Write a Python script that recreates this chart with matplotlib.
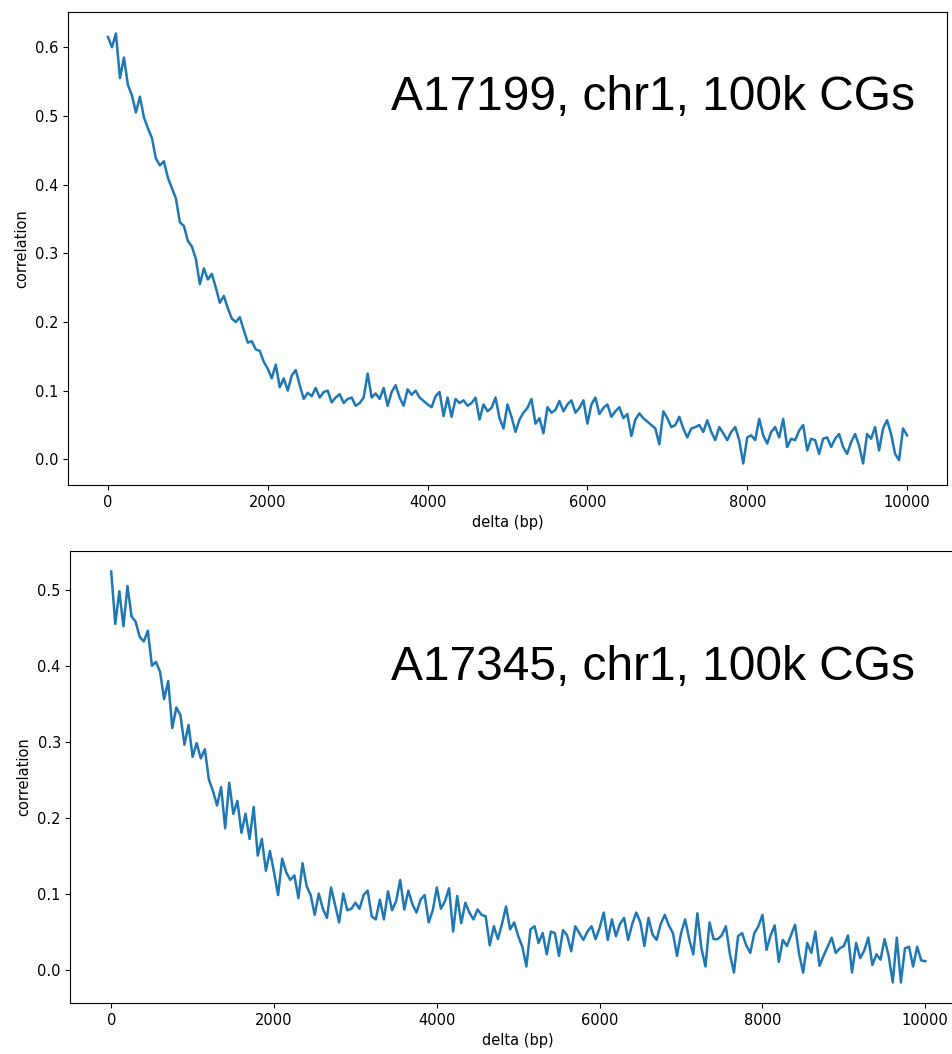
import numpy as np
import matplotlib.pyplot as plt

# delta grid (bp), sampled every 50 bp
delta = np.arange(0, 10001, 50)

# A17199, chr1 correlation
corr_a17199 = [
    0.615, 0.600, 0.620, 0.555, 0.585, 0.545, 0.530, 0.505, 0.528, 0.498,
    0.482, 0.468, 0.438, 0.428, 0.434, 0.410, 0.395, 0.380, 0.345, 0.340,
    0.318, 0.310, 0.292, 0.255, 0.278, 0.262, 0.270, 0.250, 0.228, 0.238,
    0.220, 0.205, 0.200, 0.207, 0.188, 0.170, 0.172, 0.160, 0.158, 0.142,
    0.132, 0.118, 0.138, 0.105, 0.118, 0.100, 0.122, 0.130, 0.108, 0.088,
    0.097, 0.092, 0.104, 0.090, 0.098, 0.100, 0.083, 0.090, 0.095, 0.082,
    0.088, 0.090, 0.078, 0.082, 0.090, 0.125, 0.090, 0.096, 0.088, 0.104,
    0.078, 0.098, 0.108, 0.090, 0.078, 0.102, 0.094, 0.100, 0.090, 0.085,
    0.080, 0.076, 0.092, 0.098, 0.063, 0.090, 0.062, 0.088, 0.082, 0.086,
    0.078, 0.082, 0.090, 0.058, 0.080, 0.070, 0.075, 0.090, 0.060, 0.045,
    0.080, 0.062, 0.040, 0.058, 0.068, 0.075, 0.088, 0.052, 0.060, 0.038,
    0.076, 0.068, 0.072, 0.085, 0.070, 0.080, 0.086, 0.068, 0.075, 0.086,
    0.052, 0.080, 0.090, 0.066, 0.075, 0.080, 0.062, 0.070, 0.076, 0.060,
    0.066, 0.034, 0.058, 0.067, 0.060, 0.055, 0.050, 0.045, 0.022, 0.070,
    0.060, 0.047, 0.050, 0.062, 0.045, 0.032, 0.045, 0.047, 0.050, 0.040,
    0.057, 0.040, 0.028, 0.047, 0.038, 0.028, 0.040, 0.047, 0.028, -0.006,
    0.032, 0.035, 0.028, 0.059, 0.035, 0.023, 0.040, 0.047, 0.032, 0.059,
    0.018, 0.030, 0.028, 0.042, 0.050, 0.013, 0.030, 0.028, 0.008, 0.030,
    0.032, 0.018, 0.030, 0.037, 0.018, 0.008, 0.025, 0.037, 0.020, -0.006,
    0.037, 0.030, 0.047, 0.013, 0.045, 0.057, 0.037, 0.008, -0.001, 0.045,
    0.035,
]

# A17345, chr1 correlation
corr_a17345 = [
    0.524, 0.455, 0.498, 0.452, 0.505, 0.465, 0.458, 0.438, 0.432, 0.446,
    0.400, 0.405, 0.392, 0.356, 0.380, 0.318, 0.345, 0.335, 0.296, 0.322,
    0.280, 0.298, 0.278, 0.290, 0.250, 0.235, 0.216, 0.240, 0.186, 0.246,
    0.205, 0.222, 0.180, 0.205, 0.172, 0.214, 0.150, 0.172, 0.130, 0.156,
    0.128, 0.098, 0.146, 0.128, 0.118, 0.124, 0.094, 0.140, 0.110, 0.098,
    0.072, 0.100, 0.080, 0.068, 0.108, 0.085, 0.062, 0.100, 0.078, 0.080,
    0.088, 0.080, 0.098, 0.104, 0.070, 0.066, 0.092, 0.066, 0.103, 0.078,
    0.090, 0.118, 0.079, 0.104, 0.086, 0.075, 0.092, 0.098, 0.062, 0.078,
    0.108, 0.080, 0.090, 0.107, 0.050, 0.097, 0.061, 0.088, 0.075, 0.066,
    0.079, 0.072, 0.070, 0.032, 0.057, 0.040, 0.060, 0.083, 0.053, 0.062,
    0.044, 0.030, 0.004, 0.053, 0.057, 0.035, 0.048, 0.020, 0.050, 0.048,
    0.018, 0.052, 0.045, 0.024, 0.057, 0.048, 0.039, 0.050, 0.057, 0.040,
    0.055, 0.075, 0.039, 0.066, 0.044, 0.060, 0.068, 0.039, 0.060, 0.075,
    0.062, 0.031, 0.068, 0.046, 0.039, 0.060, 0.072, 0.058, 0.048, 0.018,
    0.048, 0.066, 0.040, 0.020, 0.074, 0.028, 0.004, 0.062, 0.040, 0.040,
    0.045, 0.057, 0.020, -0.004, 0.044, 0.048, 0.032, 0.022, 0.048, 0.057,
    0.072, 0.026, 0.045, 0.058, 0.010, 0.039, 0.031, 0.045, 0.059, 0.020,
    -0.004, 0.035, 0.022, 0.050, 0.005, 0.018, 0.030, 0.042, 0.022, 0.028,
    0.031, 0.045, -0.004, 0.035, 0.015, 0.025, 0.042, 0.006, 0.020, 0.013,
    0.040, 0.018, -0.017, 0.042, -0.017, 0.028, 0.030, 0.004, 0.030, 0.012,
    0.011,
]

W, H = 953, 1054
fig = plt.figure(figsize=(W / 100, H / 100), dpi=100)

# the two panels (pixel boxes turned into figure fractions)
ax1 = fig.add_axes([68 / W, 1 - 485 / H, 879 / W, 473 / H])
ax2 = fig.add_axes([70.5 / W, 1 - 1003 / H, 895.5 / W, 452 / H])

panels = [
    (ax1, corr_a17199, "A17199, chr1, 100k CGs", 110),
    (ax2, corr_a17345, "A17345, chr1, 100k CGs", 680),
]

for ax, corr, title, baseline in panels:
    ax.plot(delta, corr, color="#1f77b4", lw=1.8)
    ax.set_xlabel("delta (bp)", fontsize=10.5)
    ax.set_ylabel("correlation", fontsize=10.5)
    ax.tick_params(labelsize=10.5)
    ax.set_xticks([0, 2000, 4000, 6000, 8000, 10000])
    fig.text(915 / W, 1 - baseline / H, title, ha="right", va="baseline",
             fontsize=34.5, family="Liberation Sans")

fig.savefig("out.png", dpi=100)
